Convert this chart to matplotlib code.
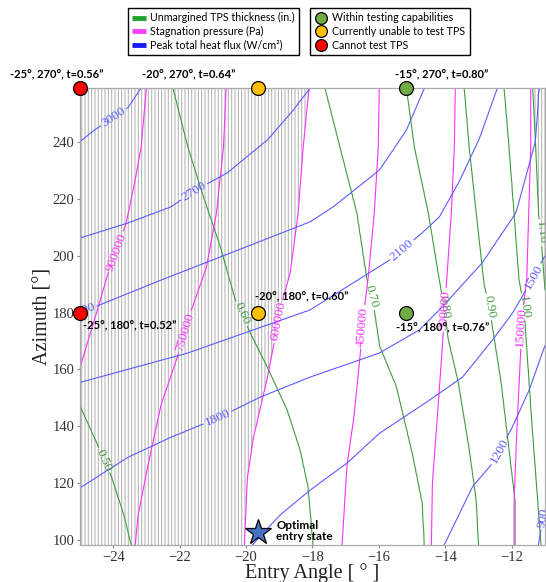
import numpy as np
import matplotlib.pyplot as plt
from matplotlib.lines import Line2D

plt.rcParams['font.family'] = 'Liberation Serif'
plt.rcParams['hatch.color'] = '#b8b8b8'
plt.rcParams['hatch.linewidth'] = 0.8

# contour traces (entry angle [deg], azimuth [deg])
# thickness, in. -- near vertical lines, listed bottom to top
thick_levels = [0.50, 0.60, 0.70, 0.80, 0.90, 1.00, 1.10]
thick_az = [
    [98.4, 108.6, 122.6, 134.6, 146.2, 200, 260],
    [98.4, 118.8, 131.8, 145.8, 160.9, 172.8, 184.4, 203.0, 220.6, 238.1, 258.8],
    [98.4, 113.0, 130.5, 154.0, 168.0, 184.4, 189.7, 215.0, 238.1, 258.8],
    [98.4, 114.2, 132.0, 155.6, 170.6, 182.0, 191.5, 215.0, 238.0, 258.8],
    [98.4, 114.2, 132.0, 155.6, 175.6, 182.6, 189.7, 215.0, 238.0, 258.8],
    [98.4, 117.0, 140.5, 166.2, 182.0, 191.5, 215.0, 238.0, 258.8],
    [98.4, 150.0, 180.0, 208.0, 214.0, 238.0, 258.8],
]
thick_ang = [
    [-23.46, -23.67, -24.06, -24.51, -24.96, -27.0, -29.0],
    [-17.98, -18.13, -18.37, -18.76, -19.36, -19.87, -20.32, -20.77, -21.28, -21.75, -22.20],
    [-14.63, -14.69, -14.99, -15.47, -15.97, -16.18, -16.33, -16.66, -17.17, -17.62],
    [-13.00, -13.07, -13.28, -13.61, -13.91, -14.03, -14.18, -14.51, -14.93, -15.17],
    [-11.90, -11.90, -12.08, -12.32, -12.59, -12.68, -12.83, -13.07, -13.28, -13.43],
    [-11.12, -11.24, -11.39, -11.54, -11.63, -11.78, -11.93, -12.08, -12.23],
    [-10.40, -10.80, -10.95, -11.13, -11.19, -11.28, -11.37],
]

# stagnation pressure, Pa
press_levels = [900000, 750000, 600000, 450000, 300000, 150000]
press_az = [
    [98.4, 130.0, 162.3, 180.0, 194.0, 201.0, 211.4, 226.5, 238.0, 258.8],
    [98.4, 109.0, 126.6, 147.6, 164.0, 173.0, 181.0, 196.0, 215.0, 238.0, 258.8],
    [98.4, 122.0, 136.0, 157.0, 175.0, 180.0, 194.0, 215.0, 238.0, 258.8],
    [98.4, 126.5, 143.5, 168.0, 175.0, 191.5, 215.0, 238.0, 258.8],
    [98.4, 120.0, 143.5, 168.0, 189.7, 215.0, 238.0, 258.8],
    [98.4, 114.0, 138.0, 167.0, 175.0, 191.5, 215.0, 238.0, 258.8],
]
press_ang = [
    [-26.00, -25.60, -24.96, -24.50, -24.15, -23.91, -23.61, -23.34, -23.16, -23.00],
    [-23.34, -23.25, -22.95, -22.56, -22.08, -21.84, -21.64, -21.19, -20.89, -20.68, -20.60],
    [-20.05, -19.96, -19.78, -19.36, -19.06, -19.00, -18.67, -18.43, -18.28, -18.10],
    [-17.11, -16.96, -16.75, -16.54, -16.51, -16.33, -16.14, -16.02, -15.99],
    [-14.42, -14.39, -14.24, -14.09, -13.97, -13.82, -13.73, -13.70],
    [-11.93, -11.93, -11.85, -11.73, -11.73, -11.55, -11.49, -11.43, -11.43],
]

# peak total heat flux, W/cm2 -- rising lines, listed left to right
flux_levels = [900, 1200, 1500, 1800, 2100, 2400, 2700, 3000]
flux_ang = [
    [-25.0, -15.0, -11.2, -11.0],
    [-25.0, -18.0, -14.03, -13.18, -12.58, -11.98, -11.48, -11.09, -10.8],
    [-25.0, -22.0, -19.81, -18.97, -18.07, -16.96, -15.98, -14.48, -13.48, -12.58, -11.98, -11.34, -11.04, -10.5],
    [-25.0, -23.55, -22.26, -20.86, -19.57, -18.07, -15.98, -14.78, -14.09, -12.89, -11.87, -11.28, -11.19, -10.8],
    [-25.0, -21.75, -18.07, -15.68, -14.69, -14.18, -13.58, -12.98, -12.44, -11.0],
    [-25.0, -24.57, -22.56, -18.07, -17.38, -15.98, -15.17, -14.63, -11.0],
    [-25.0, -23.55, -22.26, -21.57, -20.56, -19.36, -18.58, -18.07, -15.0, -11.0],
    [-25.0, -24.57, -23.55, -23.16, -20.0, -11.0],
]
flux_az = [
    [20, 60, 98.4, 112],
    [40, 70, 98.4, 118.9, 127.1, 139.9, 152.8, 165.7, 175],
    [60, 80, 98.4, 109.0, 117.7, 127.2, 137.7, 149.3, 157.4, 170.4, 179.8, 192.5, 199.0, 210],
    [118.5, 129.3, 136.3, 143.0, 150.4, 157.4, 165.8, 173.9, 182.0, 197.4, 215.0, 240.5, 258.8, 275],
    [155.5, 165.8, 180.9, 198.4, 208.0, 213.5, 226.0, 241.0, 258.8, 285],
    [180.5, 181.9, 191.4, 211.8, 217.0, 230.0, 244.0, 258.8, 295],
    [206.1, 211.4, 217.0, 222.5, 229.0, 240.5, 251.0, 258.8, 300, 330],
    [240.0, 244.0, 252.0, 258.8, 300, 380],
]

# test points
pt_ang = [-25, -19.63, -15.17, -25, -19.63, -15.17]
pt_az = [270, 270, 270, 180, 180, 180]
pt_color = ['#ff0000', '#ffc000', '#70ad47', '#ff0000', '#ffc000', '#70ad47']
pt_text = ['-25°, 270°, t=0.56”', '-20°, 270°, t=0.64”', '-15°, 270°, t=0.80”',
           '-25°, 180°, t=0.52”', '-20°, 180°, t=0.60”', '-15°, 180°, t=0.76”']
opt_ang, opt_az = -19.63, 103

xlo, xhi = -25, -11
ylo, yhi = 98.4, 258.8
xg = np.linspace(xlo, xhi, 281)
yg = np.linspace(ylo, yhi, 241)


def crossings_to_field(levels, pos_list, along_list, grid_along, grid_pos):
    # value along one grid line from where each level crosses it
    out = np.empty((len(grid_along), len(grid_pos)))
    lv0 = np.array(levels, float)
    for i, a in enumerate(grid_along):
        p = np.array([np.interp(a, al, po) for po, al in zip(pos_list, along_list)])
        o = np.argsort(p)
        p, v = p[o], lv0[o]
        p = np.r_[p[0] - 100 * (p[1] - p[0]), p, p[-1] + 100 * (p[-1] - p[-2])]
        v = np.r_[v[0] - 100 * (v[1] - v[0]), v, v[-1] + 100 * (v[-1] - v[-2])]
        out[i] = np.interp(grid_pos, p, v)
    return out


thick = crossings_to_field(thick_levels, thick_ang, thick_az, yg, xg)
press = crossings_to_field(press_levels, press_ang, press_az, yg, xg)
flux = crossings_to_field(flux_levels, flux_az, flux_ang, xg, yg).T

fig = plt.figure(figsize=(5.46, 5.82), dpi=100)
ax = fig.add_axes([80 / 546, 37 / 582, 465 / 546, 457 / 582])

# hatched areas that cannot be tested
ax.contourf(xg, yg, press, levels=[600000, 5e6], colors='none', hatches=['|||||'])
ax.contourf(xg, yg, thick, levels=[1.10, 10], colors='none', hatches=['|||||'])

green, magenta, blue = '#3f9b3f', '#ff30ff', '#5c5cff'
cs_t = ax.contour(xg, yg, thick, levels=thick_levels, colors=green, linewidths=0.8)
cs_p = ax.contour(xg, yg, press, levels=press_levels[::-1], colors=magenta, linewidths=0.8)
cs_f = ax.contour(xg, yg, flux, levels=flux_levels, colors=blue, linewidths=0.8)

lab_t = [(-24.27, 128.2), (-20.08, 179.8), (-16.45, 184.4), (-14.09, 182.0),
         (-12.68, 182.0), (-11.63, 182.0), (-11.13, 208.0)]
lab_p = [(-23.82, 200.9), (-21.72, 172.8), (-18.91, 176.7), (-16.48, 175.0),
         (-14.09, 181.0), (-11.73, 175.0)]
lab_f = [(-11.1, 108.0), (-12.45, 131.8), (-11.34, 192.5), (-20.86, 143.0),
         (-15.38, 203.0), (-24.95, 181.0), (-21.57, 222.5), (-23.97, 248.3)]
lt = ax.clabel(cs_t, fmt='%.2f', fontsize=9.5, inline=True, inline_spacing=2, manual=lab_t)
lp = ax.clabel(cs_p, fmt='%d', fontsize=9.5, inline=True, inline_spacing=2, manual=lab_p)
lf = ax.clabel(cs_f, fmt='%d', fontsize=9.5, inline=True, inline_spacing=2, manual=lab_f)
for t in list(lt) + list(lp) + list(lf):
    t.set_clip_on(True)

# test points, 270 deg cases sit on the top edge
for a, z, c in zip(pt_ang, pt_az, pt_color):
    ax.plot(a, min(z, yhi), 'o', ms=10, mfc=c, mec='black', mew=0.9, clip_on=False, zorder=6)
offsets = [(-17, 9.5), (-50, 9.5), (25.5, 9.5), (36, -9.5), (31, 11), (26, -11)]
for a, z, s, off in zip(pt_ang, pt_az, pt_text, offsets):
    ax.annotate(s, (a, min(z, yhi)), xytext=off, textcoords='offset points',
                ha='center', va='center', fontsize=8.0, fontweight='bold',
                family='Lato', annotation_clip=False, zorder=7)
ax.plot(opt_ang, opt_az, '*', ms=19, mfc='#4472c4', mec='black', mew=0.9, clip_on=False, zorder=6)
ax.annotate('Optimal\nentry state', (opt_ang, opt_az), xytext=(13, 1), textcoords='offset points',
            ha='left', va='center', fontsize=8.4, fontweight='bold', family='Lato',
            linespacing=1.0, annotation_clip=False, zorder=7)

ax.set_xlim(xlo, xhi)
ax.set_ylim(ylo, yhi)
ax.set_xticks(np.arange(-24, -11, 2))
ax.set_yticks(np.arange(100, 241, 20))
ax.tick_params(labelsize=10.5, length=2.5, pad=1.5, color='#888888', labelcolor='#333333')
for sp in ax.spines.values():
    sp.set_color('#aaaaaa')
    sp.set_linewidth(0.9)
ax.set_xlabel('Entry Angle [ ° ]', fontsize=14.5, labelpad=0, color='#222222')
ax.set_ylabel('Azimuth [°]', fontsize=14.5, labelpad=0, color='#222222')

leg_font = dict(family='Lato', size=7.7)
h1 = [Line2D([], [], color=c, lw=3.5, solid_capstyle='butt') for c in ['#22a22a', '#ff40ff', '#1a1aff']]
l1 = ['Unmargined TPS thickness (in.)', 'Stagnation pressure (Pa)', 'Peak total heat flux (W/cm²)']
h2 = [Line2D([], [], ls='none', marker='o', ms=8.5, mfc=c, mec='black', mew=0.9)
      for c in ['#70ad47', '#ffc000', '#ff0000']]
l2 = ['Within testing capabilities', 'Currently unable to test TPS', 'Cannot test TPS']
for h, l, x0 in [(h1, l1, 128 / 546), (h2, l2, 310 / 546)]:
    lg = fig.legend(h, l, loc='upper left', bbox_to_anchor=(x0, 1 - 8 / 582), borderaxespad=0,
                    prop=leg_font, fancybox=False, edgecolor='black', framealpha=1,
                    handlelength=1.25, handletextpad=0.45, labelspacing=0.25, borderpad=0.4)
    lg.get_frame().set_linewidth(1.0)

fig.savefig('out.png', dpi=100)
